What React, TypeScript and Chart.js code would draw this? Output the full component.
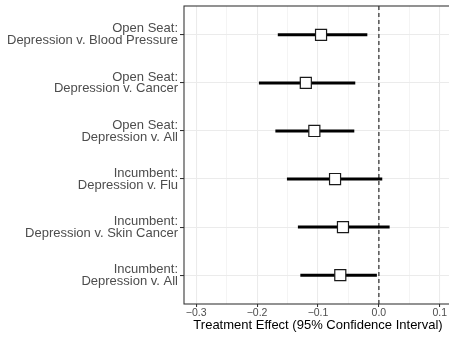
import { useEffect, useRef } from "react";
import { Chart, registerables } from "chart.js";

Chart.register(...registerables);

const rowLabels: string[][] = [
  ["Open Seat:", "Depression v. Blood Pressure"],
  ["Open Seat:", "Depression v. Cancer"],
  ["Open Seat:", "Depression v. All"],
  ["Incumbent:", "Depression v. Flu"],
  ["Incumbent:", "Depression v. Skin Cancer"],
  ["Incumbent:", "Depression v. All"],
];
const estimates = [-0.095, -0.12, -0.106, -0.072, -0.059, -0.0634];
const lowerBounds = [-0.166, -0.197, -0.17, -0.151, -0.133, -0.129];
const upperBounds = [-0.019, -0.0388, -0.0404, 0.0055, 0.0176, -0.0033];
const xMajorTicks = [-0.3, -0.2, -0.1, 0, 0.1];
const xMinorTicks = [-0.25, -0.15, -0.05, 0.05];
const xTickLabels = ["\u22120.3", "\u22120.2", "\u22120.1", "0.0", "0.1"];
const referenceValue = 0;
const xTitle = "Treatment Effect (95% Confidence Interval)";

const FONT = '"Liberation Sans", Arial, Helvetica, sans-serif';

const isMajor = (v: number) => xMajorTicks.some((t) => Math.abs(t - v) < 1e-9);

const zeroPad = (scale: any) => {
  scale.paddingTop = 0;
  scale.paddingBottom = 0;
  scale.paddingLeft = 0;
  scale.paddingRight = 0;
};

const panelBorder = {
  id: "panelBorder",
  afterDatasetsDraw(chart: any) {
    const { ctx, chartArea } = chart;
    ctx.save();
    ctx.strokeStyle = "#333333";
    ctx.lineWidth = 1.07;
    ctx.strokeRect(chartArea.left, chartArea.top, chartArea.right - chartArea.left, chartArea.bottom - chartArea.top);
    ctx.restore();
  },
};

export default function App() {
  const ref = useRef<HTMLCanvasElement | null>(null);
  useEffect(() => {
    if (!ref.current) return;
    Chart.defaults.font.family = FONT;
    const rows = rowLabels.map((_, i) => i + 1);
    const ciSets = rows.map((y, i) => ({
      type: "line" as const,
      data: [
        { x: lowerBounds[i], y },
        { x: upperBounds[i], y },
      ],
      borderColor: "#000000",
      borderWidth: 3,
      pointRadius: 0,
      borderCapStyle: "butt" as const,
      order: 1,
    }));
    const chart = new Chart(ref.current, {
      type: "scatter",
      data: {
        datasets: [
          {
            type: "scatter",
            data: estimates.map((e, i) => ({ x: e, y: rows[i] })),
            pointStyle: "rect",
            pointRadius: 7.8,
            pointHoverRadius: 7.8,
            backgroundColor: "#ffffff",
            borderColor: "#1a1a1a",
            borderWidth: 1.2,
            order: 0,
          } as any,
          ...ciSets,
          {
            type: "line",
            data: [
              { x: referenceValue, y: 0.4 },
              { x: referenceValue, y: rows.length + 0.6 },
            ],
            borderColor: "#000000",
            borderWidth: 1,
            borderDash: [4, 3],
            pointRadius: 0,
            order: 2,
          },
        ],
      },
      options: {
        animation: false,
        responsive: false,
        devicePixelRatio: 1,
        layout: { padding: { top: 3, right: 4, left: 0, bottom: 0 } },
        plugins: { legend: { display: false }, tooltip: { enabled: false } },
        scales: {
          x: {
            type: "linear",
            min: -0.32,
            max: 0.12,
            afterBuildTicks: (scale: any) => {
              scale.ticks = [...xMajorTicks, ...xMinorTicks].sort((a, b) => a - b).map((v) => ({ value: v }));
            },
            afterFit: (scale: any) => {
              scale.height = 33;
              zeroPad(scale);
            },
            ticks: {
              autoSkip: false,
              maxRotation: 0,
              padding: 1,
              color: "#4d4d4d",
              font: { size: 10.5, lineHeight: 1 },
              callback: (value: any) => {
                const i = xMajorTicks.findIndex((t) => Math.abs(t - Number(value)) < 1e-9);
                return i >= 0 ? xTickLabels[i] : "";
              },
            },
            grid: {
              color: (c: any) => "#ebebeb",
              lineWidth: (c: any) => (c.tick && isMajor(c.tick.value) ? 1.07 : 0.55),
              tickColor: (c: any) => (c.tick && isMajor(c.tick.value) ? "#333333" : "rgba(0,0,0,0)"),
              tickLength: 3,
              tickWidth: 1.07,
            },
            border: { display: false },
            title: {
              display: true,
              text: xTitle,
              color: "#000000",
              font: { size: 13, lineHeight: 1.2 },
              padding: { top: 0, bottom: 3.8 },
            },
          },
          y: {
            type: "linear",
            min: 0.4,
            max: rowLabels.length + 0.6,
            reverse: true,
            afterBuildTicks: (scale: any) => {
              scale.ticks = rows.map((v) => ({ value: v }));
            },
            afterFit: (scale: any) => {
              scale.width = 184;
              zeroPad(scale);
            },
            ticks: {
              autoSkip: false,
              padding: 2,
              color: "#4d4d4d",
              font: { size: 13, lineHeight: 0.92 },
              callback: (value: any) => rowLabels[Number(value) - 1],
            },
            grid: {
              color: "#ebebeb",
              lineWidth: 1.07,
              tickColor: "#333333",
              tickLength: 4,
              tickWidth: 1.07,
            },
            border: { display: false },
          },
        },
      },
      plugins: [panelBorder],
    } as any);
    return () => chart.destroy();
  }, []);
  return (
    <div style={{ position: "absolute", left: 0, top: 0, width: 449, height: 337, overflow: "hidden", background: "#ffffff" }}>
      <canvas
        ref={ref}
        width={461}
        height={340}
        style={{ display: "block", position: "absolute", left: 0, top: -3, width: 461, height: 340 }}
      />
    </div>
  );
}
